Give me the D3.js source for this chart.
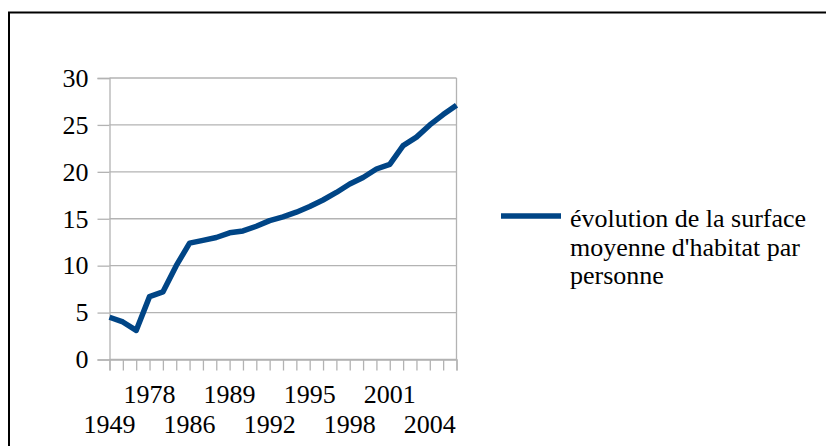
<!DOCTYPE html>
<html>
<head>
<meta charset="utf-8">
<script src="https://cdn.jsdelivr.net/npm/d3@7"></script>
<style>
  body { margin: 0; background: #fff; }
  svg { display: block; font-family: "Liberation Serif", "Times New Roman", serif; }
</style>
</head>
<body>
<svg id="chart" width="826" height="446"></svg>
<script>
// categories (only every third one is labelled on the axis)
const years = ["1949", "1957", "1977", "1978", "1980", "1985", "1986", "1987", "1988", "1989",
  "1990", "1991", "1992", "1993", "1994", "1995", "1996", "1997", "1998", "1999",
  "2000", "2001", "2002", "2003", "2004", "2005", "2006"];
const surface = [4.5, 4.0, 3.1, 6.7, 7.2, 10.0, 12.4, 12.7, 13.0, 13.5,
  13.7, 14.2, 14.8, 15.2, 15.7, 16.3, 17.0, 17.8, 18.7, 19.4,
  20.3, 20.8, 22.8, 23.7, 25.0, 26.1, 27.1];
const yTicks = [0, 5, 10, 15, 20, 25, 30];
const seriesName = ["évolution de la surface", "moyenne d'habitat par", "personne"];

const svg = d3.select("#chart");
const plotLeft = 109.5, plotRight = 456.5, plotTop = 78, plotBottom = 359.5;
const lineColor = "#004586";
const gridColor = "#b3b3b3";
const fontSize = "26px";

// frame around the chart
svg.append("path")
  .attr("d", "M9,446 L9,12.5 L826,12.5")
  .attr("fill", "none")
  .attr("stroke", "#000")
  .attr("stroke-width", 2);

const x = d3.scalePoint().domain(years).range([plotLeft, plotRight]);
const y = d3.scaleLinear().domain([0, 30]).range([plotBottom, plotTop]);

// horizontal grid
svg.append("g")
  .selectAll("line")
  .data(yTicks)
  .enter()
  .append("line")
  .attr("x1", plotLeft).attr("x2", plotRight)
  .attr("y1", d => y(d)).attr("y2", d => y(d))
  .attr("stroke", gridColor)
  .attr("stroke-width", 1.3);

// right edge of plot area
svg.append("line")
  .attr("x1", plotRight).attr("x2", plotRight)
  .attr("y1", plotTop).attr("y2", plotBottom)
  .attr("stroke", gridColor)
  .attr("stroke-width", 1.3);

// y axis
const yAxis = svg.append("g")
  .attr("transform", "translate(" + plotLeft + ",0)")
  .call(d3.axisLeft(y).tickValues(yTicks).tickSize(12).tickPadding(9));
yAxis.selectAll("path, line").attr("stroke", gridColor).attr("stroke-width", 1.3);
yAxis.selectAll("text")
  .attr("fill", "#000")
  .style("font-size", fontSize)
  .style("font-family", "Liberation Serif");

// x axis, labels staggered on two rows
const xAxis = svg.append("g")
  .attr("transform", "translate(0," + plotBottom + ")")
  .call(d3.axisBottom(x).tickSize(11).tickFormat(""));
xAxis.selectAll("path, line").attr("stroke", gridColor).attr("stroke-width", 1.3);

const labelled = years.filter((d, i) => i % 3 === 0);
svg.append("g")
  .selectAll("text")
  .data(labelled)
  .enter()
  .append("text")
  .attr("x", d => x(d))
  .attr("y", (d, i) => i % 2 === 0 ? 433 : 403)
  .attr("text-anchor", "middle")
  .style("font-size", fontSize)
  .text(d => d);

// series line
const line = d3.line()
  .x((d, i) => x(years[i]))
  .y(d => y(d));

svg.append("path")
  .datum(surface)
  .attr("d", line)
  .attr("fill", "none")
  .attr("stroke", lineColor)
  .attr("stroke-width", 5.5)
  .attr("stroke-linejoin", "round");

// legend
svg.append("line")
  .attr("x1", 501).attr("x2", 561)
  .attr("y1", 216).attr("y2", 216)
  .attr("stroke", lineColor)
  .attr("stroke-width", 5.5);

svg.append("text")
  .attr("x", 570)
  .attr("y", 227)
  .style("font-size", fontSize)
  .selectAll("tspan")
  .data(seriesName)
  .enter()
  .append("tspan")
  .attr("x", 570)
  .attr("dy", (d, i) => i === 0 ? 0 : 28.7)
  .text(d => d);
</script>
</body>
</html>
